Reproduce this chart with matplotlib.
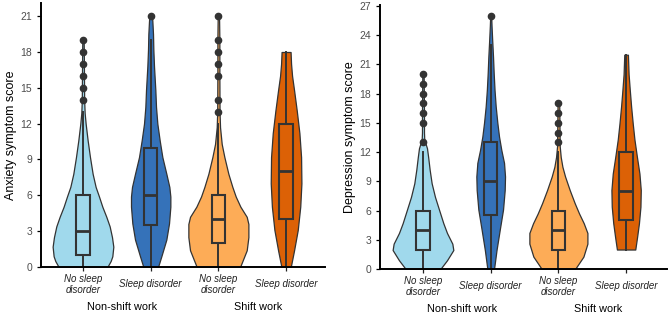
import numpy as np
import matplotlib.pyplot as plt

plt.rcParams['font.family'] = ['Liberation Sans', 'DejaVu Sans']

tick_labels = ['No sleep\ndisorder', 'Sleep disorder', 'No sleep\ndisorder', 'Sleep disorder']
group_labels = ['Non-shift work', 'Shift work']
colors = ['#a0d9ec', '#3572b9', '#fdac57', '#dc6106']

# violin outlines: score levels and relative half-width
anx_levels = [
    [0, 0.5, 0.9, 1.7, 2.5, 3.4, 4.2, 5.05, 5.9, 6.7, 7.8, 9.2, 10.6, 12.0, 12.9, 14, 16, 18, 19],
    [0, 0.9, 2.3, 3.65, 5.05, 5.9, 6.7, 7.8, 9.2, 10.6, 12.0, 13.4, 14.8, 16.8, 18.2, 19.5, 20.6, 21],
    [0, 1.4, 2.5, 3.6, 4.2, 5.05, 5.9, 6.7, 7.8, 9.2, 10.3, 11.7, 13, 16, 19, 21],
    [0, 1.4, 3.1, 5.05, 7.0, 9.2, 11.2, 13.1, 14.8, 16, 17, 18],
]
anx_density = [
    [73, 83, 88, 91, 87, 80, 70, 58, 48, 38, 29, 21, 14, 8, 5, 3.5, 3, 2.5, 2],
    [22, 32, 47, 55, 59, 59, 56, 47, 35, 27, 20, 16, 14, 10, 8, 7, 5, 4],
    [65, 85, 90, 90, 85, 66, 52, 42, 30, 18, 10, 5, 3.5, 3, 3, 2],
    [14, 24, 35, 42.5, 46, 45, 40, 32, 24, 18, 15, 13.5],
]
anx_q1 = [1, 3.5, 2, 4]
anx_med = [3, 6, 4, 8]
anx_q3 = [6, 10, 6, 12]
anx_wlo = [0, 0, 0, 0]
anx_whi = [13, 19, 12, 18]
anx_fliers = [[14, 15, 16, 17, 18, 19], [21], [13, 14, 16, 17, 18, 19, 21], []]

dep_levels = [
    [0, 0.9, 1.95, 2.6, 3.7, 4.7, 6.1, 7.4, 8.8, 10.2, 11.5, 12.4, 12.9, 13.2, 14, 16, 18, 20],
    [0, 1.95, 4.0, 6.1, 8.1, 9.5, 10.9, 12.2, 13.6, 15.0, 16.7, 18.4, 20.1, 21.8, 23.5, 25, 26],
    [0, 1.27, 2.6, 3.7, 4.7, 5.7, 6.75, 8.1, 9.5, 10.5, 11.5, 12.6, 14, 17],
    [2, 3.3, 4.7, 6.4, 8.1, 9.8, 11.5, 13.3, 14.9, 16.7, 18.4, 20, 21, 22],
]
dep_density = [
    [52, 72, 91, 88, 72, 61, 48, 36, 26, 20, 15.5, 12, 7.5, 4, 3, 3, 2.5, 2],
    [10, 17.5, 27, 37, 42, 43, 40, 32, 25, 20, 15, 11.5, 9, 7, 4.5, 2.5, 1.5],
    [50, 75, 87, 87, 76, 62, 49, 34, 20, 12, 7, 4, 3.5, 2.5],
    [27.5, 33, 38.5, 43, 44, 40, 32.5, 25, 20, 15, 11, 7.5, 6.5, 5.5],
]
dep_q1 = [2, 5.5, 2, 5]
dep_med = [4, 9, 4, 8]
dep_q3 = [6, 13, 6, 12]
dep_wlo = [0, 0, 0, 2]
dep_whi = [12, 23, 12, 22]
dep_fliers = [[13, 15, 16, 17, 18, 19, 20], [26], [13, 14, 15, 16, 17], []]

positions = [1, 2, 3, 4]
dark = '#333333'
scale = 1 / 203.0


def panel(ax, levels, density, q1, med, q3, wlo, whi, fliers, ylabel, ymax, yticks, xlim, labx):
    for i, p in enumerate(positions):
        lv = np.array(levels[i])
        w = np.array(density[i]) * scale
        ax.fill_betweenx(lv, p - w, p + w, facecolor=colors[i], edgecolor=dark,
                         linewidth=0.9, zorder=1)
    stats = []
    for i in range(4):
        stats.append(dict(med=med[i], q1=q1[i], q3=q3[i], whislo=wlo[i],
                          whishi=whi[i], fliers=fliers[i]))
    ax.bxp(stats, positions=positions, widths=0.2, showcaps=False,
           patch_artist=True, manage_ticks=False, zorder=2,
           boxprops=dict(facecolor='none', edgecolor=dark, linewidth=1.5),
           medianprops=dict(color=dark, linewidth=2.0),
           whiskerprops=dict(color=dark, linewidth=1.4),
           flierprops=dict(marker='o', markerfacecolor=dark, markeredgecolor=dark,
                           markersize=4.5))
    ax.set_xlim(*xlim)
    ax.set_ylim(0, ymax)
    ax.set_yticks(yticks)
    ax.set_xticks(positions)
    ax.set_xticklabels(tick_labels, fontstyle='italic', fontsize=7)
    for t in ax.get_xticklabels():
        t.set_verticalalignment('center')
    ax.tick_params(axis='x', length=3, width=0.9, pad=9.5, colors='#222222')
    ax.tick_params(axis='y', length=3, width=0.9, labelsize=7.5, labelcolor='#4d4d4d')
    for s in ['top', 'right']:
        ax.spines[s].set_visible(False)
    for s in ['left', 'bottom']:
        ax.spines[s].set_linewidth(1.4)
    ax.set_ylabel(ylabel, fontsize=9)
    ax.yaxis.set_label_coords(labx, 0.5)
    ax.text(1.58, -0.15, group_labels[0], transform=ax.get_xaxis_transform(),
            ha='center', va='center', fontsize=7.8)
    ax.text(3.58, -0.15, group_labels[1], transform=ax.get_xaxis_transform(),
            ha='center', va='center', fontsize=7.8)


fig = plt.figure(figsize=(6.69, 3.15), dpi=100)
ax1 = fig.add_axes([0.0613, 0.1524, 0.4245, 0.838])
ax2 = fig.add_axes([0.568, 0.146, 0.429, 0.838])

panel(ax1, anx_levels, anx_density, anx_q1, anx_med, anx_q3, anx_wlo, anx_whi,
      anx_fliers, 'Anxiety symptom score', 22.1, np.arange(0, 22, 3),
      (0.38, 4.575), -0.085)
panel(ax2, dep_levels, dep_density, dep_q1, dep_med, dep_q3, dep_wlo, dep_whi,
      dep_fliers, 'Depression symptom score', 27.1, np.arange(0, 28, 3),
      (0.365, 4.604), -0.082)

fig.savefig('out.png', dpi=100)
